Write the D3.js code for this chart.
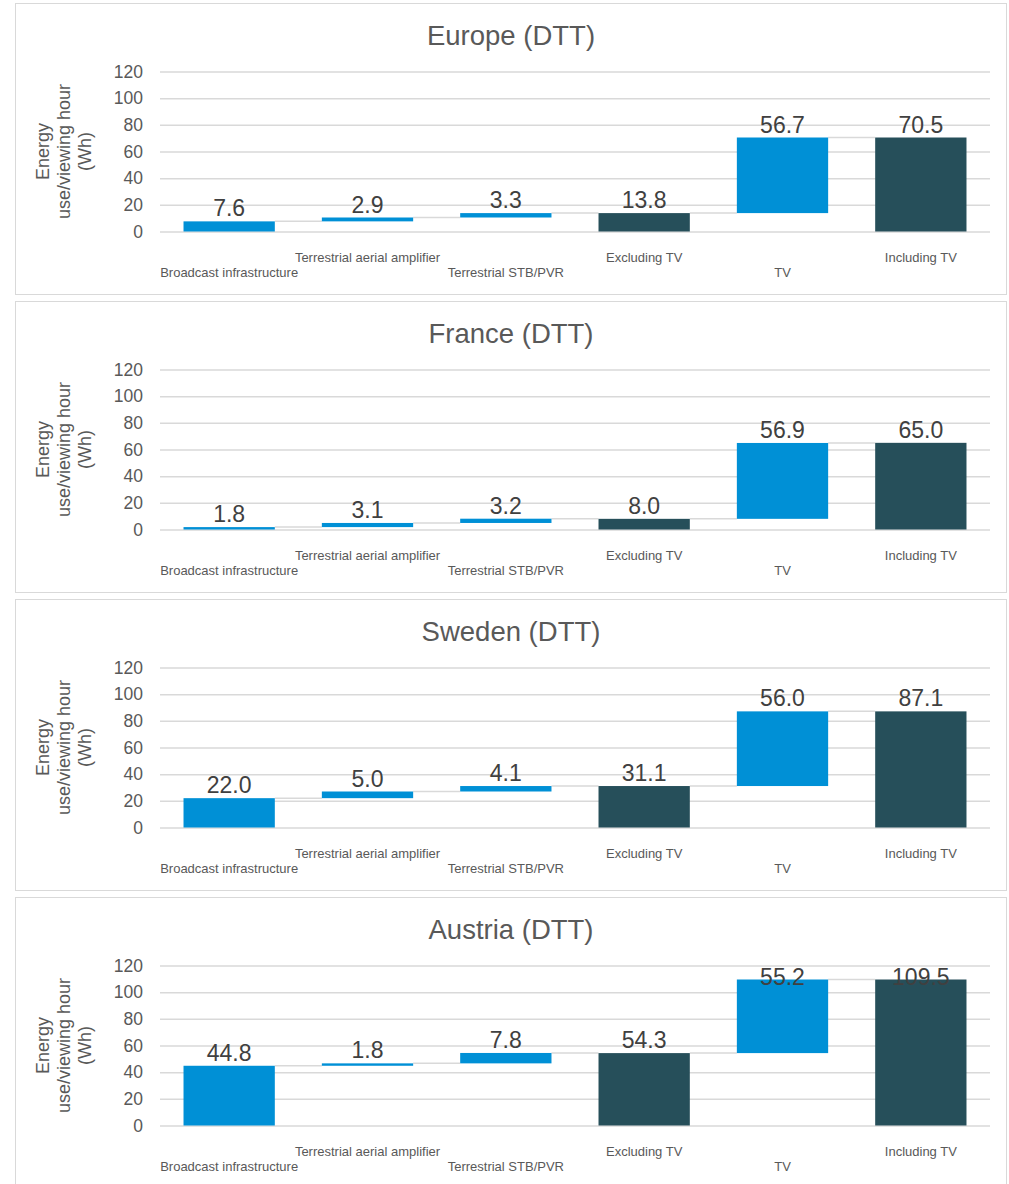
<!DOCTYPE html>
<html>
<head>
<meta charset="utf-8">
<script src="https://cdn.jsdelivr.net/npm/d3@7"></script>
<style>
  html, body { margin: 0; padding: 0; background: #ffffff; }
  svg { display: block; font-family: "Liberation Sans", Arial, sans-serif; }
</style>
</head>
<body>
<svg id="chart" width="1009" height="1184"></svg>
<script>
// Waterfall steps shared by every panel
const categories = [
  "Broadcast infrastructure",
  "Terrestrial aerial amplifier",
  "Terrestrial STB/PVR",
  "Excluding TV",
  "TV",
  "Including TV"
];
// true = subtotal bar drawn from zero, false = floating increment
const isTotal = [false, false, false, true, false, true];

const regions = ["Europe (DTT)", "France (DTT)", "Sweden (DTT)", "Austria (DTT)"];

const europeValues  = [7.6, 2.9, 3.3, 13.8, 56.7, 70.5];
const franceValues  = [1.8, 3.1, 3.2, 8.0, 56.9, 65.0];
const swedenValues  = [22.0, 5.0, 4.1, 31.1, 56.0, 87.1];
const austriaValues = [44.8, 1.8, 7.8, 54.3, 55.2, 109.5];
const seriesValues = [europeValues, franceValues, swedenValues, austriaValues];

const yTicks = [0, 20, 40, 60, 80, 100, 120];
const yTitleLines = ["Energy", "use/viewing hour", "(Wh)"];

const BLUE = "#0090d6";
const DARK = "#264f5a";
const GRID = "#d9d9d9";
const TEXT = "#595959";

const svg = d3.select("#chart");

const panelLeft = 15.5, panelWidth = 991, panelHeight = 291, panelStep = 298, panelTop0 = 3.5;
const plotLeft = 160, plotRight = 990;
const plotTopOff = 68, plotBottomOff = 228;

const x = d3.scaleBand()
  .domain(categories)
  .range([plotLeft, plotRight])
  .paddingInner(0.34)
  .paddingOuter(0.17);

regions.forEach((title, p) => {
  const T = panelTop0 + p * panelStep;
  const values = seriesValues[p];

  // Build the floating segments of the waterfall
  let running = 0;
  const segs = values.map((v, i) => {
    let lo, hi;
    if (isTotal[i]) { lo = 0; hi = v; running = v; }
    else { lo = running; hi = running + v; running = hi; }
    return { cat: categories[i], value: v, lo, hi, level: running, total: isTotal[i] };
  });

  const g = svg.append("g");

  g.append("rect")
    .attr("x", panelLeft).attr("y", T)
    .attr("width", panelWidth).attr("height", panelHeight)
    .attr("fill", "#ffffff").attr("stroke", GRID).attr("stroke-width", 1);

  g.append("text")
    .attr("x", panelLeft + panelWidth / 2)
    .attr("y", T + 41)
    .attr("text-anchor", "middle")
    .attr("font-size", 27.5)
    .attr("fill", TEXT)
    .text(title);

  const y = d3.scaleLinear().domain([0, 120]).range([T + plotBottomOff, T + plotTopOff]);

  // Horizontal gridlines
  const grid = g.append("g")
    .attr("transform", `translate(${plotLeft},0)`)
    .call(d3.axisLeft(y).tickValues(yTicks).tickSize(-(plotRight - plotLeft)).tickFormat(""));
  grid.select(".domain").remove();
  grid.selectAll(".tick line").attr("stroke", GRID).attr("stroke-width", 1.5);

  // Y tick labels
  const yAxis = g.append("g")
    .attr("transform", `translate(${plotLeft - 17},0)`)
    .call(d3.axisLeft(y).tickValues(yTicks).tickSize(0).tickPadding(0).tickFormat(d3.format("d")));
  yAxis.select(".domain").remove();
  yAxis.selectAll("text")
    .attr("font-size", 17.5)
    .attr("font-family", "'Liberation Sans', Arial, sans-serif")
    .attr("fill", TEXT);

  // Y axis title
  const cy = T + (plotTopOff + plotBottomOff) / 2;
  const yt = g.append("text")
    .attr("transform", `translate(64,${cy}) rotate(-90)`)
    .attr("text-anchor", "middle")
    .attr("font-size", 18)
    .attr("fill", TEXT);
  yTitleLines.forEach((line, i) => {
    yt.append("tspan")
      .attr("x", 0)
      .attr("y", (i - 1) * 21 + 6)
      .text(line);
  });

  // Connector lines at the running level between neighbouring bars
  g.selectAll("line.conn")
    .data(segs.slice(0, -1))
    .join("line")
    .attr("class", "conn")
    .attr("x1", d => x(d.cat) + x.bandwidth())
    .attr("x2", (d, i) => x(segs[i + 1].cat))
    .attr("y1", d => y(d.level))
    .attr("y2", d => y(d.level))
    .attr("stroke", GRID)
    .attr("stroke-width", 1.5);

  // Bars
  g.selectAll("rect.bar")
    .data(segs)
    .join("rect")
    .attr("class", "bar")
    .attr("x", d => x(d.cat))
    .attr("width", x.bandwidth())
    .attr("y", d => y(d.hi))
    .attr("height", d => Math.max(1, y(d.lo) - y(d.hi)))
    .attr("fill", d => d.total ? DARK : BLUE);

  // Value labels above each bar, kept inside the plot area
  g.selectAll("text.val")
    .data(segs)
    .join("text")
    .attr("class", "val")
    .attr("x", d => x(d.cat) + x.bandwidth() / 2)
    .attr("y", d => Math.max(y(d.hi) - 5, T + plotTopOff + 19))
    .attr("text-anchor", "middle")
    .attr("font-size", 23)
    .attr("fill", "#404040")
    .text(d => d3.format(".1f")(d.value));

  // Category labels, staggered on two rows
  g.selectAll("text.cat")
    .data(categories)
    .join("text")
    .attr("class", "cat")
    .attr("x", d => x(d) + x.bandwidth() / 2)
    .attr("y", (d, i) => T + (i % 2 === 0 ? 273 : 258))
    .attr("text-anchor", "middle")
    .attr("font-size", 13)
    .attr("fill", TEXT)
    .text(d => d);
});
</script>
</body>
</html>
